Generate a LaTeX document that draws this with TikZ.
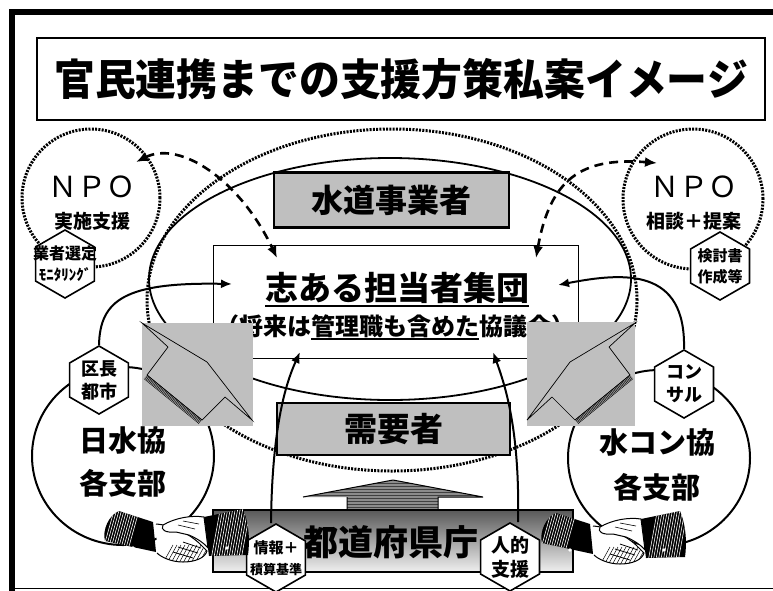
\documentclass[tikz,border=0pt]{standalone}
\usepackage{fontspec}
\newfontfamily\jp{Noto Sans CJK JP}
\usetikzlibrary{shapes.geometric,arrows.meta,calc}
\newcommand\fsz[2]{\fontsize{#1}{#2}\selectfont}
\newcommand\ulbox[1]{\setbox0\hbox{#1}\rlap{\rule[-0.2em]{\wd0}{2pt}}\box0}
\tikzset{
  dotline/.style={line width=3pt, dash pattern=on 2pt off 1.3pt},
  hexa/.style={regular polygon, regular polygon sides=6, shape border rotate=30,
    draw, fill=white, line width=1.6pt, minimum size=68pt, inner sep=0pt},
  hextext/.style={align=center, inner sep=0pt},
  txt/.style={font=\jp\bfseries, inner sep=0pt},
  graybox/.style={draw, line width=2.5pt, fill=black!25, font=\jp\bfseries, inner sep=0pt},
  link/.style={line width=2pt, -{Latex[length=11pt,width=9pt]}},
  dlink/.style={line width=2.6pt, dash pattern=on 9pt off 6pt,
    {Latex[length=12pt,width=10pt]}-{Latex[length=12pt,width=10pt]}},
  handshake/.pic={
    % left arm: striped sleeve and cuff
    \begin{scope}
      \clip (2,36) .. controls (-1,25) and (6,10) .. (16,6) -- (50,17) -- (53,47) -- cycle;
      \fill[black] (-5,0) rectangle (60,55);
      \foreach \sx in {0,2.5,...,27}
        \draw[white, line width=0.6pt] (\sx+12,2) -- (\sx-2,52);
    \end{scope}
    \fill[white] (30,43) circle (1.8pt);
    % left hand
    \begin{scope}
      \path[clip] (53,19) .. controls (68,20) and (85,28) .. (96,38)
        -- (104,46) .. controls (102,53) and (92,57) .. (80,57)
        .. controls (68,57) and (58,52) .. (54,48) -- cycle;
      \fill[white] (50,15) rectangle (110,60);
      \foreach \sx in {60,64,...,100}
        \draw[line width=0.5pt] (\sx,58) -- (\sx+10,40);
    \end{scope}
    \draw[line width=1pt] (53,19) .. controls (68,20) and (85,28) .. (96,38)
        -- (104,46) .. controls (102,53) and (92,57) .. (80,57)
        .. controls (68,57) and (58,52) .. (54,48);
    \draw[line width=0.8pt] (70,47) -- (90,53) (75,42) -- (95,48) (80,37) -- (98,43);
    % right arm: striped sleeve and cuff
    \begin{scope}
      \clip (101,12) -- (140,4) .. controls (146,18) and (147,36) .. (145,50) -- (106,51) -- cycle;
      \fill[black] (95,0) rectangle (150,55);
      \foreach \sx in {0,2.5,...,30}
        \draw[white, line width=0.6pt] (\sx+118,0) -- (\sx+108,55);
    \end{scope}
    \fill[white] (124,43) circle (1.8pt);
    % right hand, thumb on top
    \draw[line width=1pt, fill=white] (101,12) .. controls (88,10) and (72,13) .. (60,20)
      .. controls (57,25) and (63,28) .. (73,27) -- (86,30)
      .. controls (95,34) and (101,38) .. (105,43) -- cycle;
    \draw[line width=0.6pt] (75,20) -- (92,24) (80,16) -- (96,19);
  }
}
\begin{document}
\begin{tikzpicture}[x=1pt,y=-1pt]
\useasboundingbox (0,0) rectangle (773,590);

% frame
\draw[line width=6pt] (12,592) -- (12,12) -- (775,12);
\draw[line width=1.5pt] (9,588.5) -- (775,588.5);

% title
\node[draw, line width=1.3pt, minimum width=728pt, minimum height=82pt, inner sep=0pt] (title)
  at (401,79) {\jp\bfseries\fsz{43}{43}\scalebox{0.95}[1]{官民連携までの支援方策私案イメージ}};

% outer dotted ring and the water utility ellipse
\draw[dotline] (392,300) ellipse [x radius=245pt, y radius=171pt];
\draw[line width=1.8pt] (390,279) ellipse [x radius=241pt, y radius=121pt];

% association loops
\draw[line width=2pt] (123,456) ellipse [x radius=91pt, y radius=89pt];
\draw[line width=2pt] (659,458) ellipse [x radius=91pt, y radius=88pt];

% NPO rings
\draw[dotline] (91,198) circle [radius=69pt];
\draw[dotline] (693,199) circle [radius=70pt];
\node[inner sep=0pt, font=\jp] (npoL) at (92,187) {\fsz{29}{29}ＮＰＯ};
\node[txt] (npoLsub) at (92,221) {\fsz{19}{19}実施支援};
\node[inner sep=0pt, font=\jp] (npoR) at (694,187) {\fsz{29}{29}ＮＰＯ};
\node[txt] (npoRsub) at (694,221) {\fsz{19}{19}相談＋提案};

% boxes
\node[graybox, minimum width=235pt, minimum height=55pt] (util) at (391.5,200) {\fsz{32}{32}水道事業者};
\node[draw, line width=0.8pt, fill=white, minimum width=365pt, minimum height=113pt] (core) at (395.5,301.5) {};
\node[txt, anchor=base] (corehead) at (397,300) {\fsz{33}{33}\ulbox{志ある担当者集団}};
\node[txt, anchor=base] (coresub) at (395,335) {\fsz{24}{24}（将来は\ulbox{管理職も含めた}協議会）};
\node[graybox, minimum width=233pt, minimum height=52pt] (demand) at (393.5,429) {\fsz{33}{33}需要者};

% upward arrow
\begin{scope}
  \clip (303,497) -- (393,480) -- (483,497) -- (438,497) -- (438,511) -- (347,511) -- (347,497) -- cycle;
  \fill[black!45] (300,478) rectangle (486,512);
  \foreach \sy in {483,486,...,510}
    \draw[black!75, line width=0.5pt] (300,\sy) -- (486,\sy);
\end{scope}
\draw[line width=1pt] (303,497) -- (393,480) -- (483,497) -- (438,497) -- (438,510) (347,510) -- (347,497) -- cycle;

% prefecture bar
\node[draw, line width=1.5pt, top color=black!65, bottom color=black!6,
  minimum width=360pt, minimum height=62pt] (pref) at (393,541) {};
\node[txt] (preftext) at (391,542) {\fsz{35}{35}都道府県庁};

% hexagon tags
\node[hexa] (hsel) at (65,264) {};
\node[hextext, font=\jp\bfseries\fsz{16}{21}] at (hsel) {業者選定\\{\fsz{15}{15}ﾓﾆﾀﾘﾝｸﾞ}};
\node[hexa] (hdoc) at (720,266) {};
\node[hextext, font=\jp\bfseries\fsz{15}{21}] at (hdoc) {検討書\\作成等};
\node[hexa] (hward) at (99,380) {};
\node[hextext, font=\jp\bfseries\fsz{18}{23}] at (hward) {区長\\都市};
\node[hexa] (hcons) at (684,384) {};
\node[hextext, font=\jp\bfseries\fsz{18}{23}] at (hcons) {コン\\サル};
\node[hexa] (hinfo) at (276,558) {};
\node[hextext, font=\jp\bfseries\fsz{15}{21}] at (hinfo) {情報＋\\{\fsz{13}{13}積算基準}};
\node[hexa] (hstaff) at (510,557) {};
\node[hextext, font=\jp\bfseries\fsz{19}{24}] at (hstaff) {人的\\支援};

% association names
\node[txt] (jwwa) at (123,441) {\fsz{29}{29}日水協};
\node[txt] (jwwab) at (123,483) {\fsz{29}{29}各支部};
\node[txt] (cons) at (657,443) {\fsz{29}{29}水コン協};
\node[txt] (consb) at (657,487) {\fsz{29}{29}各支部};

% arrow ends inside the core box
\coordinate (kin) at (232,284);
\coordinate (cin) at (558,285);
\coordinate (iin) at (300,352);
\coordinate (sin) at (493,352);
\coordinate (ltop) at (277,258);
\coordinate (rtop) at (536,258);
\coordinate (lnpo) at (136,162);
\coordinate (rnpo) at (657,163);

% solid links
\draw[link] (hward.north) .. controls (100,300) and (125,282) .. (kin);
\draw[link] (hcons.north) .. controls (686,268) and (625,272) .. (cin);
\draw[link] ($(hinfo.north)+(-5,0)$) .. controls (272,430) and (285,385) .. (iin);
\draw[link] ($(hstaff.north)+(8,0)$) .. controls (520,430) and (505,385) .. (sin);

% image placeholders
\fill[black!25] (142,323) rectangle (253,426);
\draw[line width=0.7pt] (142,323) -- (207,362) -- (252,420) -- (225,397) -- (202,420) -- (147,375) -- (168,347) -- cycle;
\foreach \sk in {0,1.2,...,4.8}
  \draw[line width=0.45pt] (147-0.63*\sk,375+0.77*\sk) -- (202-0.63*\sk,420+0.77*\sk);
\fill[black!25] (527,322) rectangle (635,426);
\draw[line width=0.7pt] (635,323) -- (570,362) -- (527,420) -- (552,397) -- (575,420) -- (630,375) -- (609,347) -- cycle;
\foreach \sk in {0,1.2,...,4.8}
  \draw[line width=0.45pt] (630+0.63*\sk,375+0.77*\sk) -- (575+0.63*\sk,420+0.77*\sk);

% handshakes
\pic at (103,505) {handshake};
\pic at (540,507) {handshake};

% dashed two-way links with the NPOs
\draw[dlink] (lnpo) .. controls (180,140) and (240,180) .. (ltop);
\draw[dlink] (rtop) .. controls (550,180) and (580,157) .. (rnpo);
\end{tikzpicture}
\end{document}
